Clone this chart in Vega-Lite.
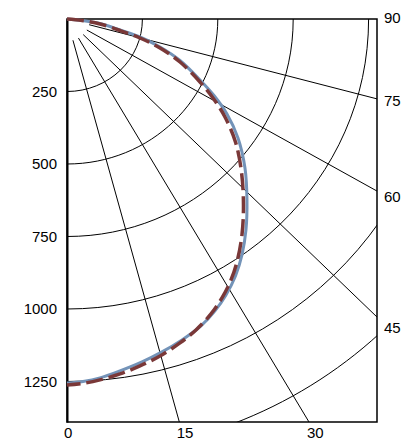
{
  "$schema": "https://vega.github.io/schema/vega-lite/v6.json",
  "width": 310,
  "height": 403,
  "autosize": {"type": "none"},
  "padding": {"left": 67, "top": 19, "right": 24, "bottom": 21},
  "background": "white",
  "config": {
    "view": {"stroke": "black", "strokeWidth": 1.5},
    "font": "Liberation Sans"
  },
  "datasets": {
    "arcs": [{"r": 250}, {"r": 500}, {"r": 750}, {"r": 1000}, {"r": 1250}, {"r": 1500}],
    "spokes": [
      {"a": 15, "x": 19.7, "y": 73.4, "x2": 372.5, "y2": 1390},
      {"a": 30, "x": 38, "y": 65.8, "x2": 802.5, "y2": 1390},
      {"a": 45, "x": 53.7, "y": 53.7, "x2": 1028, "y2": 1028},
      {"a": 60, "x": 65.8, "y": 38, "x2": 1028, "y2": 593.5},
      {"a": 75, "x": 73.4, "y": 19.7, "x2": 1028, "y2": 275.5}
    ],
    "curves": [
      {"s": "r", "i": 0, "x": 0, "y": 0},
      {"s": "r", "i": 1, "x": 49.7, "y": 5.2},
      {"s": "r", "i": 2, "x": 109.4, "y": 17.2},
      {"s": "r", "i": 3, "x": 175.7, "y": 39.7},
      {"s": "r", "i": 4, "x": 242.0, "y": 65.5},
      {"s": "r", "i": 5, "x": 308.4, "y": 100},
      {"s": "r", "i": 6, "x": 374.7, "y": 148.3},
      {"s": "r", "i": 7, "x": 441.0, "y": 217.2},
      {"s": "r", "i": 8, "x": 484.1, "y": 272.4},
      {"s": "r", "i": 9, "x": 523.9, "y": 337.9},
      {"s": "r", "i": 10, "x": 558.7, "y": 424.1},
      {"s": "r", "i": 11, "x": 578.6, "y": 527.6},
      {"s": "r", "i": 12, "x": 585.2, "y": 641.4},
      {"s": "r", "i": 13, "x": 580.2, "y": 744.8},
      {"s": "r", "i": 14, "x": 565.3, "y": 831},
      {"s": "r", "i": 15, "x": 543.8, "y": 900},
      {"s": "r", "i": 16, "x": 513.9, "y": 962.1},
      {"s": "r", "i": 17, "x": 477.5, "y": 1017.2},
      {"s": "r", "i": 18, "x": 427.7, "y": 1072.4},
      {"s": "r", "i": 19, "x": 374.7, "y": 1117.2},
      {"s": "r", "i": 20, "x": 308.4, "y": 1162.1},
      {"s": "r", "i": 21, "x": 242.0, "y": 1196.6},
      {"s": "r", "i": 22, "x": 175.7, "y": 1224.1},
      {"s": "r", "i": 23, "x": 109.4, "y": 1244.8},
      {"s": "r", "i": 24, "x": 53.1, "y": 1256.9},
      {"s": "r", "i": 25, "x": 0, "y": 1262.1},
      {"s": "b", "i": 0, "x": 0, "y": 0},
      {"s": "b", "i": 1, "x": 49.7, "y": 5.2},
      {"s": "b", "i": 2, "x": 109.4, "y": 15.5},
      {"s": "b", "i": 3, "x": 175.7, "y": 37.9},
      {"s": "b", "i": 4, "x": 242.0, "y": 62.1},
      {"s": "b", "i": 5, "x": 308.4, "y": 96.6},
      {"s": "b", "i": 6, "x": 374.7, "y": 143.1},
      {"s": "b", "i": 7, "x": 441.0, "y": 210.3},
      {"s": "b", "i": 8, "x": 487.4, "y": 263.8},
      {"s": "b", "i": 9, "x": 530.5, "y": 327.6},
      {"s": "b", "i": 10, "x": 567.0, "y": 410.3},
      {"s": "b", "i": 11, "x": 590.2, "y": 513.8},
      {"s": "b", "i": 12, "x": 596.8, "y": 624.1},
      {"s": "b", "i": 13, "x": 593.5, "y": 727.6},
      {"s": "b", "i": 14, "x": 580.2, "y": 813.8},
      {"s": "b", "i": 15, "x": 558.7, "y": 886.2},
      {"s": "b", "i": 16, "x": 527.2, "y": 951.7},
      {"s": "b", "i": 17, "x": 490.7, "y": 1006.9},
      {"s": "b", "i": 18, "x": 444.3, "y": 1058.6},
      {"s": "b", "i": 19, "x": 381.3, "y": 1106.9},
      {"s": "b", "i": 20, "x": 315.0, "y": 1148.3},
      {"s": "b", "i": 21, "x": 248.7, "y": 1182.8},
      {"s": "b", "i": 22, "x": 175.7, "y": 1213.8},
      {"s": "b", "i": 23, "x": 109.4, "y": 1237.9},
      {"s": "b", "i": 24, "x": 53.1, "y": 1250},
      {"s": "b", "i": 25, "x": 0, "y": 1255.2}
    ],
    "bottomLabels": [
      {"t": "0", "x": 4.3, "y": 1390},
      {"t": "15", "x": 391.2, "y": 1390},
      {"t": "30", "x": 823.3, "y": 1390}
    ],
    "rightLabels": [
      {"t": "90", "x": 1028, "y": -3.1},
      {"t": "75", "x": 1028, "y": 283.1},
      {"t": "60", "x": 1028, "y": 612.8},
      {"t": "45", "x": 1028, "y": 1065.9}
    ]
  },
  "layer": [
    {
      "data": {"name": "arcs"},
      "mark": {
        "type": "point",
        "shape": "M1.04,0C1.04,0.5523,0.5744,1,0,1",
        "filled": false,
        "stroke": "black",
        "strokeWidth": 1,
        "opacity": 1,
        "clip": true
      },
      "encoding": {
        "x": {"datum": 0, "type": "quantitative", "scale": {"domain": [0, 1028], "nice": false, "zero": false}, "axis": null},
        "y": {"datum": 0, "type": "quantitative", "scale": {"domain": [0, 1390], "nice": false, "zero": false, "reverse": true},
          "axis": {"values": [250, 500, 750, 1000, 1250], "format": "d", "title": null, "ticks": false, "grid": false, "domainColor": "black", "domainWidth": 2, "labelFont": "Liberation Sans", "labelFontSize": 15, "labelColor": "black", "labelPadding": 10.5}},
        "size": {
          "field": "r", "type": "quantitative",
          "scale": {"type": "pow", "exponent": 2, "domain": [0, 1000], "range": [0, 336400]},
          "legend": null
        }
      }
    },
    {
      "data": {"name": "spokes"},
      "mark": {"type": "rule", "stroke": "black", "strokeWidth": 1, "clip": true},
      "encoding": {
        "x": {"field": "x", "type": "quantitative", "scale": {"domain": [0, 1028], "nice": false, "zero": false}, "axis": null},
        "y": {"field": "y", "type": "quantitative", "scale": {"domain": [0, 1390], "nice": false, "zero": false, "reverse": true},
          "axis": {"values": [250, 500, 750, 1000, 1250], "format": "d", "title": null, "ticks": false, "grid": false, "domainColor": "black", "domainWidth": 2, "labelFont": "Liberation Sans", "labelFontSize": 15, "labelColor": "black", "labelPadding": 10.5}},
        "x2": {"field": "x2"},
        "y2": {"field": "y2"}
      }
    },
    {
      "data": {"name": "curves"},
      "transform": [{"filter": "datum.s == 'b'"}],
      "mark": {"type": "line", "stroke": "#7393b8", "strokeWidth": 3, "interpolate": "catmull-rom"},
      "encoding": {
        "x": {"field": "x", "type": "quantitative", "scale": {"domain": [0, 1028], "nice": false, "zero": false}, "axis": null},
        "y": {"field": "y", "type": "quantitative", "scale": {"domain": [0, 1390], "nice": false, "zero": false, "reverse": true},
          "axis": {"values": [250, 500, 750, 1000, 1250], "format": "d", "title": null, "ticks": false, "grid": false, "domainColor": "black", "domainWidth": 2, "labelFont": "Liberation Sans", "labelFontSize": 15, "labelColor": "black", "labelPadding": 10.5}},
        "order": {"field": "i", "type": "quantitative"}
      }
    },
    {
      "data": {"name": "curves"},
      "transform": [{"filter": "datum.s == 'r'"}],
      "mark": {"type": "line", "stroke": "#7a3838", "strokeWidth": 3.5, "strokeDash": [17, 6], "strokeCap": "butt", "interpolate": "catmull-rom"},
      "encoding": {
        "x": {"field": "x", "type": "quantitative", "scale": {"domain": [0, 1028], "nice": false, "zero": false}, "axis": null},
        "y": {"field": "y", "type": "quantitative", "scale": {"domain": [0, 1390], "nice": false, "zero": false, "reverse": true},
          "axis": {"values": [250, 500, 750, 1000, 1250], "format": "d", "title": null, "ticks": false, "grid": false, "domainColor": "black", "domainWidth": 2, "labelFont": "Liberation Sans", "labelFontSize": 15, "labelColor": "black", "labelPadding": 10.5}},
        "order": {"field": "i", "type": "quantitative"}
      }
    },
    {
      "data": {"name": "bottomLabels"},
      "mark": {"type": "text", "font": "Liberation Sans", "fontSize": 15, "color": "black", "align": "center", "baseline": "middle", "dy": 11},
      "encoding": {
        "x": {"field": "x", "type": "quantitative", "scale": {"domain": [0, 1028], "nice": false, "zero": false}, "axis": null},
        "y": {"field": "y", "type": "quantitative", "scale": {"domain": [0, 1390], "nice": false, "zero": false, "reverse": true},
          "axis": {"values": [250, 500, 750, 1000, 1250], "format": "d", "title": null, "ticks": false, "grid": false, "domainColor": "black", "domainWidth": 2, "labelFont": "Liberation Sans", "labelFontSize": 15, "labelColor": "black", "labelPadding": 10.5}},
        "text": {"field": "t"}
      }
    },
    {
      "data": {"name": "rightLabels"},
      "mark": {"type": "text", "font": "Liberation Sans", "fontSize": 15, "color": "black", "align": "left", "baseline": "middle", "dx": 7},
      "encoding": {
        "x": {"field": "x", "type": "quantitative", "scale": {"domain": [0, 1028], "nice": false, "zero": false}, "axis": null},
        "y": {"field": "y", "type": "quantitative", "scale": {"domain": [0, 1390], "nice": false, "zero": false, "reverse": true},
          "axis": {"values": [250, 500, 750, 1000, 1250], "format": "d", "title": null, "ticks": false, "grid": false, "domainColor": "black", "domainWidth": 2, "labelFont": "Liberation Sans", "labelFontSize": 15, "labelColor": "black", "labelPadding": 10.5}},
        "text": {"field": "t"}
      }
    }
  ]
}
